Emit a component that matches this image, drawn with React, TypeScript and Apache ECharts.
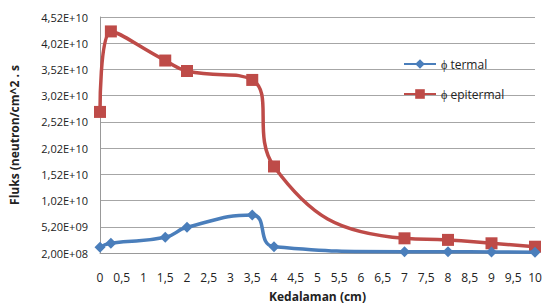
import React, { useEffect, useRef } from "react";
import * as echarts from "echarts";

const depth = [0, 0.25, 1.5, 2, 3.5, 4, 7, 8, 9, 10];
const termal = [1.3e9, 2.05e9, 3.2e9, 5.1e9, 7.45e9, 1.4e9, 0.45e9, 0.45e9, 0.4e9, 0.35e9];
const epitermal = [2.71e10, 4.245e10, 3.69e10, 3.49e10, 3.32e10, 1.67e10, 3.0e9, 2.7e9, 2.05e9, 1.4e9];
const seriesNames = ["\u03d5 termal", "\u03d5 epitermal"];
const yStart = 2e8;
const yStep = 5e9;
const yTop = 4.52e10;

function fmtSci(v: number): string {
  const s = v.toExponential(2);
  const [m, e] = s.split("e");
  const exp = parseInt(e, 10);
  const sign = exp < 0 ? "-" : "+";
  const ae = Math.abs(exp);
  return m.replace(".", ",") + "E" + sign + (ae < 10 ? "0" + ae : String(ae));
}

export default function App() {
  const ref = useRef<HTMLDivElement>(null);
  useEffect(() => {
    if (!ref.current) return;
    const chart = echarts.init(ref.current, undefined, { renderer: "svg" });
    const font = "Open Sans";
    chart.setOption({
      animation: false,
      textStyle: { fontFamily: font },
      grid: { left: 97, right: 11, top: 17, bottom: 54 },
      legend: {
        orient: "vertical",
        left: 398,
        top: 53,
        itemGap: 18,
        itemWidth: 32,
        itemHeight: 12,
        textStyle: { fontFamily: font, fontSize: 12, color: "#222" },
        data: seriesNames,
      },
      xAxis: {
        type: "value",
        min: 0,
        max: 10,
        interval: 0.5,
        name: "Kedalaman (cm)",
        nameLocation: "middle",
        nameGap: 37,
        nameTextStyle: { fontFamily: font, fontSize: 12, color: "#222", fontWeight: "bold" },
        axisLine: { show: true, lineStyle: { color: "#999", width: 1 } },
        axisTick: { show: false },
        axisLabel: {
          color: "#222",
          fontSize: 12,
          fontFamily: font,
          margin: 18,
          formatter: (v: number) => String(v).replace(".", ","),
        },
        splitLine: { show: false },
      },
      yAxis: {
        type: "value",
        min: 0,
        max: yTop - yStart,
        interval: yStep,
        name: "Fluks (neutron/cm^2 . s",
        nameLocation: "middle",
        nameGap: 80,
        nameRotate: 90,
        nameTextStyle: { fontFamily: font, fontSize: 12, color: "#222", fontWeight: "bold" },
        axisLine: { show: true, lineStyle: { color: "#999", width: 1 } },
        axisTick: { show: false },
        axisLabel: {
          color: "#222",
          fontSize: 11,
          fontFamily: font,
          margin: 12,
          formatter: (v: number) => fmtSci(v + yStart),
        },
        splitLine: { show: true, lineStyle: { color: "#a6a6a6", width: 1 } },
      },
      series: [
        {
          name: seriesNames[0],
          type: "line",
          smooth: 0.5,
          symbol: "diamond",
          symbolSize: 11,
          itemStyle: { color: "#4a7ebb" },
          lineStyle: { color: "#4a7ebb", width: 3.5 },
          data: depth.map((d, i) => [d, termal[i] - yStart]),
          z: 3,
        },
        {
          name: seriesNames[1],
          type: "line",
          smooth: 0.5,
          symbol: "rect",
          symbolSize: 12,
          itemStyle: { color: "#be4b48" },
          lineStyle: { color: "#be4b48", width: 3.5 },
          data: depth.map((d, i) => [d, epitermal[i] - yStart]),
          z: 2,
        },
      ],
    });
    return () => chart.dispose();
  }, []);
  return <div ref={ref} style={{ width: 546, height: 307, position: "absolute", left: 0, top: 0, background: "#fff" }} />;
}
